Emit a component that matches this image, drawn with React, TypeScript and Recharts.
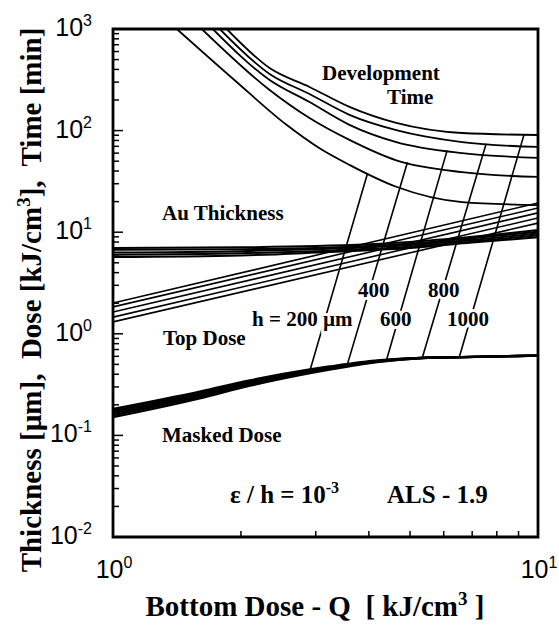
import React from 'react';
import { LineChart, Line, XAxis, YAxis, ReferenceArea } from 'recharts';

// bottom dose Q [kJ/cm3] vs thickness / dose / time
const devTimeA = [[1.852, 1000], [2.336, 413], [2.9, 269], [3.6, 171], [4.64, 119], [6.63, 94.7], [10, 90.5]];
const devTimeB = [[1.783, 1000], [2.336, 361], [2.9, 229], [3.6, 143], [4.64, 101], [6.63, 77], [10, 69]];
const devTimeC = [[1.717, 1000], [2.336, 315], [2.9, 191], [3.6, 114], [4.64, 77], [6.63, 60], [10, 54]];
const devTimeD = [[1.618, 1000], [2.336, 251], [2.9, 133], [3.6, 81], [4.64, 51], [6.63, 39], [10, 35]];
const devTimeE = [[1.413, 1000], [1.954, 301], [2.56, 114], [3.062, 67], [3.6, 46], [4.64, 28], [6.63, 19.8], [10, 18.5]];

const auX = [1, 2, 3, 5, 7, 10];
const au1 = [7.0, 7.1, 7.3, 8.0, 9.0, 10.5];
const au2 = [6.7, 6.8, 7.0, 7.7, 8.7, 10.1];
const au3 = [6.3, 6.5, 6.8, 7.5, 8.4, 9.7];
const au4 = [6.0, 6.2, 6.5, 7.2, 8.1, 9.3];
const au5 = [5.7, 5.9, 6.3, 7.0, 7.9, 8.9];

const topDose1 = [[1, 2.01], [10, 19.4]];
const topDose2 = [[1, 1.84], [10, 17.3]];
const topDose3 = [[1, 1.64], [10, 15.5]];
const topDose4 = [[1, 1.46], [10, 13.8]];
const topDose5 = [[1, 1.31], [10, 12.3]];

const maskX = [1, 1.6, 2.1, 2.93, 3.23, 4.24, 5.34, 6.63, 10];
const mask1 = [0.182, 0.27, 0.348, 0.448, 0.476, 0.55, 0.58, 0.59, 0.61];
const mask2 = [0.174, 0.26, 0.338, 0.439, 0.468, 0.545, 0.579, 0.59, 0.61];
const mask3 = [0.166, 0.25, 0.328, 0.43, 0.46, 0.54, 0.578, 0.59, 0.61];
const mask4 = [0.158, 0.24, 0.318, 0.421, 0.452, 0.535, 0.577, 0.59, 0.61];
const mask5 = [0.151, 0.231, 0.308, 0.412, 0.444, 0.53, 0.576, 0.59, 0.61];

// constant-h lines: masked dose -> development time
const h200 = [[2.9, 0.42], [3.97, 37.9]];
const h400 = [[3.56, 0.5], [4.93, 48.7]];
const h600 = [[4.4, 0.55], [6.11, 63.5]];
const h800 = [[5.34, 0.578], [7.55, 74.3]];
const h1000 = [[6.53, 0.59], [9.27, 91.3]];

const yDecades = [0.01, 0.1, 1, 10, 100, 1000];
const minorSteps = [2, 3, 4, 5, 6, 7, 8, 9];

const W = 559;
const H = 627;
const PLOT_LEFT = 113;
const PLOT_TOP = 29;
const PLOT_RIGHT = 538;
const PLOT_BOTTOM = 537;

const pairs = (a: number[][]) => a.map(([x, y]) => ({ x, y }));
const zip = (xs: number[], ys: number[]) => xs.map((x, i) => ({ x, y: ys[i] }));

const yTicks = yDecades.flatMap((d) => (d < 1000 ? [d, ...minorSteps.map((m) => +(d * m).toPrecision(3))] : [d]));
const xTicks = [1, ...minorSteps, 10];

const isDecade = (v: number) => Math.abs(Math.log10(v) - Math.round(Math.log10(v))) < 1e-6;

const YTick = (props: any) => {
  const { y, payload } = props;
  const v = payload.value;
  const major = isDecade(v);
  const exp = Math.round(Math.log10(v));
  return (
    <g>
      <line x1={PLOT_LEFT} x2={PLOT_LEFT + (major ? 10 : 6)} y1={y} y2={y} stroke="#000" strokeWidth={1.5} />
      {major && (
        <text x={92} y={y + 7} textAnchor="end" fontFamily="Liberation Sans, Arial" fontSize={25} fill="#000">
          10
          <tspan dy={-10} fontSize={16}>{exp < 0 ? '-' + -exp : exp}</tspan>
        </text>
      )}
    </g>
  );
};

const XTick = (props: any) => {
  const { x, payload } = props;
  const v = payload.value;
  const major = isDecade(v);
  const exp = Math.round(Math.log10(v));
  return (
    <g>
      <line x1={x} x2={x} y1={PLOT_BOTTOM} y2={PLOT_BOTTOM - (major ? 10 : 6)} stroke="#000" strokeWidth={1.5} />
      {major && (
        <text x={x + 1} y={578} textAnchor="middle" fontFamily="Liberation Sans, Arial" fontSize={25} fill="#000">
          10
          <tspan dy={-10} fontSize={16}>{exp}</tspan>
        </text>
      )}
    </g>
  );
};

const serif = 'Liberation Serif, Times New Roman, serif';

const Label = ({ x, y, children, size = 21, anchor = 'start', halo = false }: any) => (
  <text
    x={x}
    y={y}
    textAnchor={anchor}
    fontFamily={serif}
    fontWeight="bold"
    fontSize={size}
    fill="#000"
    stroke={halo ? '#fff' : 'none'}
    strokeWidth={halo ? 6 : 0}
    style={{ paintOrder: 'stroke', whiteSpace: 'pre' }}
  >
    {children}
  </text>
);

const series: { key: string; data: { x: number; y: number }[]; w: number; type: 'monotone' | 'linear' }[] = [
  { key: 'devA', data: pairs(devTimeA), w: 1.8, type: 'monotone' },
  { key: 'devB', data: pairs(devTimeB), w: 1.8, type: 'monotone' },
  { key: 'devC', data: pairs(devTimeC), w: 1.8, type: 'monotone' },
  { key: 'devD', data: pairs(devTimeD), w: 1.8, type: 'monotone' },
  { key: 'devE', data: pairs(devTimeE), w: 1.8, type: 'monotone' },
  { key: 'au1', data: zip(auX, au1), w: 2, type: 'monotone' },
  { key: 'au2', data: zip(auX, au2), w: 2, type: 'monotone' },
  { key: 'au3', data: zip(auX, au3), w: 2, type: 'monotone' },
  { key: 'au4', data: zip(auX, au4), w: 2, type: 'monotone' },
  { key: 'au5', data: zip(auX, au5), w: 2, type: 'monotone' },
  { key: 'top1', data: pairs(topDose1), w: 1.6, type: 'linear' },
  { key: 'top2', data: pairs(topDose2), w: 1.6, type: 'linear' },
  { key: 'top3', data: pairs(topDose3), w: 1.6, type: 'linear' },
  { key: 'top4', data: pairs(topDose4), w: 1.6, type: 'linear' },
  { key: 'top5', data: pairs(topDose5), w: 1.6, type: 'linear' },
  { key: 'mask1', data: zip(maskX, mask1), w: 2.4, type: 'monotone' },
  { key: 'mask2', data: zip(maskX, mask2), w: 2.4, type: 'monotone' },
  { key: 'mask3', data: zip(maskX, mask3), w: 2.4, type: 'monotone' },
  { key: 'mask4', data: zip(maskX, mask4), w: 2.4, type: 'monotone' },
  { key: 'mask5', data: zip(maskX, mask5), w: 2.2, type: 'monotone' },
  { key: 'h200', data: pairs(h200), w: 1.6, type: 'linear' },
  { key: 'h400', data: pairs(h400), w: 1.6, type: 'linear' },
  { key: 'h600', data: pairs(h600), w: 1.6, type: 'linear' },
  { key: 'h800', data: pairs(h800), w: 1.6, type: 'linear' },
  { key: 'h1000', data: pairs(h1000), w: 1.6, type: 'linear' },
];

export default function App() {
  return (
    <div style={{ position: 'absolute', left: 0, top: 0, width: W, height: H, background: '#fff' }}>
      <LineChart width={W} height={H} margin={{ top: PLOT_TOP, right: W - PLOT_RIGHT, bottom: 0, left: 0 }}>
        <XAxis
          dataKey="x"
          type="number"
          scale="log"
          domain={[1, 10]}
          allowDataOverflow
          ticks={xTicks}
          interval={0}
          tick={<XTick />}
          tickLine={false}
          axisLine={false}
          height={H - PLOT_BOTTOM}
        />
        <YAxis
          dataKey="y"
          type="number"
          scale="log"
          domain={[0.01, 1000]}
          allowDataOverflow
          ticks={yTicks}
          interval={0}
          tick={<YTick />}
          tickLine={false}
          axisLine={false}
          width={PLOT_LEFT}
        />
        <ReferenceArea x1={1} x2={10} y1={0.01} y2={1000} fill="none" stroke="#000" strokeWidth={2.8} />
        {series.map((s) => (
          <Line
            key={s.key}
            data={s.data}
            dataKey="y"
            type={s.type}
            stroke="#000"
            strokeWidth={s.w}
            dot={false}
            activeDot={false}
            isAnimationActive={false}
            legendType="none"
          />
        ))}
      </LineChart>
      <svg width={W} height={H} style={{ position: 'absolute', left: 0, top: 0, pointerEvents: 'none' }}>
        <Label x={322} y={80}>Development</Label>
        <Label x={387} y={104}>Time</Label>
        <Label x={162} y={220}>Au Thickness</Label>
        <Label x={163} y={345}>Top Dose</Label>
        <Label x={162} y={442}>Masked Dose</Label>
        <Label x={252} y={326} halo>h = 200 µm</Label>
        <Label x={358} y={297} halo>400</Label>
        <Label x={428} y={297} halo>800</Label>
        <Label x={380} y={326} halo>600</Label>
        <Label x={447} y={326} halo>1000</Label>
        <Label x={230} y={503} size={25}>
          ε / h = 10<tspan dy={-10} fontSize={16}>-3</tspan>
        </Label>
        <Label x={387} y={503} size={25}>ALS - 1.9</Label>
        <Label x={315} y={616} size={29} anchor="middle">
          Bottom Dose - Q  [ kJ/cm<tspan dy={-11} fontSize={19}>3</tspan>
          <tspan dy={11}> ]</tspan>
        </Label>
        <g transform="translate(41, 300) rotate(-90)">
          <Label x={0} y={0} size={29} anchor="middle">
            Thickness [µm],  Dose [kJ/cm<tspan dy={-11} fontSize={19}>3</tspan>
            <tspan dy={11}>],  Time [min]</tspan>
          </Label>
        </g>
      </svg>
    </div>
  );
}
